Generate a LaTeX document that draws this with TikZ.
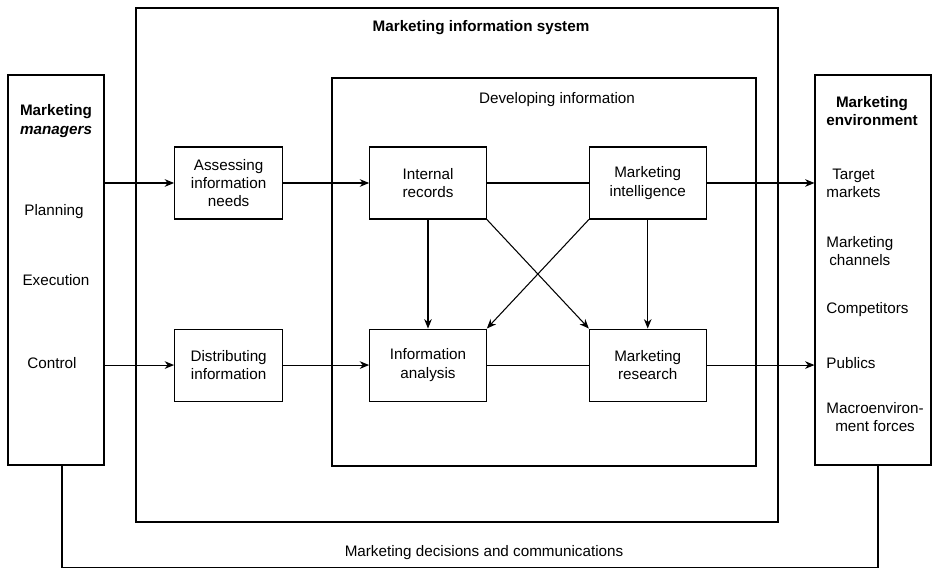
\documentclass[tikz,border=0pt]{standalone}
\usepackage{fontspec}
\setmainfont{Liberation Sans}
\usetikzlibrary{arrows.meta,positioning,calc}

\begin{document}
\begin{tikzpicture}
[font=\fontsize{13}{15.5}\selectfont,
edge/.style={black, line width=.9pt, -{Stealth[length=8pt,width=6.5pt,inset=2.5pt]}},
link/.style={black, line width=.9pt},
frame/.style={draw=black, line width=.9pt, inner sep=0pt},
block/.style={draw=black, line width=.9pt, align=center, minimum width=3.5cm, minimum height=2.16cm, inner sep=2pt},
item/.style={align=center, inner sep=1pt}]
\useasboundingbox (0,0) rectangle (28.11,-17.1);
%% frames
\node (mis) [frame, minimum width=19.26cm, minimum height=15.42cm] at (13.71,-7.95) {};
\node at (14.43,-0.84) {\bfseries Marketing information system};
\node (dev) [frame, minimum width=12.72cm, minimum height=11.64cm] at (16.32,-8.16) {};
\node at (16.71,-3.0) {Developing information};
%% managers
\node (mgr) [frame, minimum width=2.88cm, minimum height=11.7cm] at (1.68,-8.1) {};
\node [item] at (1.68,-3.63) {\bfseries Marketing\\ \bfseries\itshape managers};
\node [item] at (1.62,-6.36) {Planning};
\node [item] at (1.68,-8.4) {Execution};
\node [item] at (1.56,-10.89) {Control};
%% environment
\node (env) [frame, minimum width=3.48cm, minimum height=11.7cm] at (26.19,-8.1) {};
\node [item] at (26.16,-3.33) {\bfseries Marketing\\ \bfseries environment};
\node [item,anchor=west] at (24.75,-5.49) {Target\\markets};
\node [item,anchor=west] at (24.75,-7.53) {Marketing\\channels};
\node [item,anchor=west] at (24.75,-9.3) {Competitors};
\node [item,anchor=west] at (24.75,-10.89) {Publics};
\node [item,anchor=west] at (24.75,-12.51) {Macroenviron-\\ment forces};
%% developing information
\node (intrec) [block] at (12.84,-5.49) {Internal\\records};
\node (intel) [block,right=3.06cm of intrec] {Marketing\\intelligence};
\node (anal) [block,below=3.27cm of intrec] {Information\\analysis};
\node (research) [block,below=3.27cm of intel] {Marketing\\research};
\node (assess) [block,minimum width=3.24cm,left=2.58cm of intrec] {Assessing\\information\\needs};
\node (dist) [block,minimum width=3.24cm,left=2.58cm of anal] {Distributing\\information};
%% flows
\draw[edge] (assess.west -| mgr.east) -- (assess.west);
\draw[edge] (assess) -- (intrec);
\draw[link] (intrec) -- (intel);
\draw[edge] (intel.east) -- (intel.east -| env.west);
\draw[edge] (dist.west -| mgr.east) -- (dist.west);
\draw[edge] (dist) -- (anal);
\draw[link] (anal) -- (research);
\draw[edge] (research.east) -- (research.east -| env.west);
\draw[edge] (intrec) -- (anal);
\draw[edge] (intel) -- (research);
\draw[edge] (intrec.south east) -- (research.north west);
\draw[edge] (intel.south west) -- (anal.north east);
%% feedback
\coordinate (fbl) at ([xshift=.18cm]mgr.south);
\coordinate (fbr) at ([xshift=.15cm]env.south);
\coordinate (fb) at ($(fbl)+(0,-3.06)$);
\draw[link] (fbl) -- (fb) -| (fbr);
\node at (14.52,-16.59) {Marketing decisions and communications};
\end{tikzpicture}
\end{document}
